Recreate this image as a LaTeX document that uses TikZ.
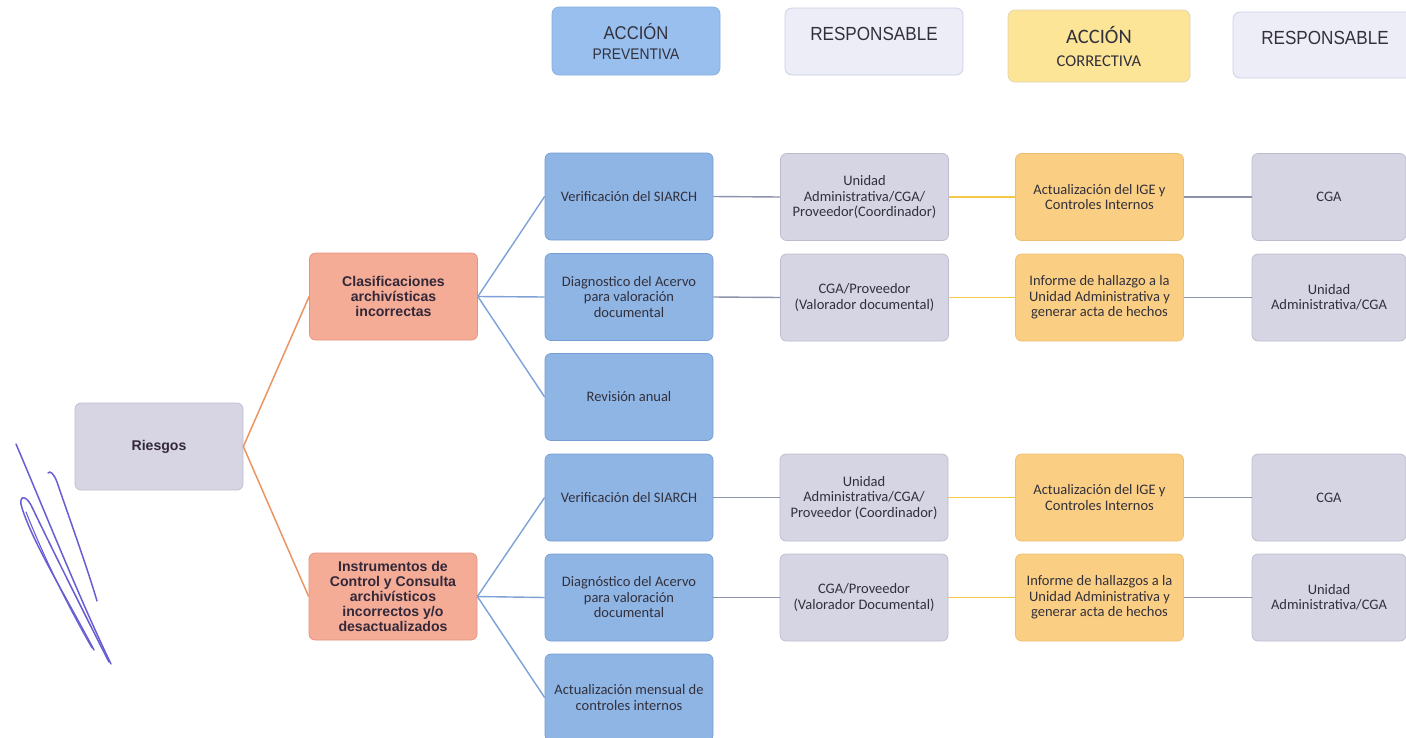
\documentclass[tikz,border=0pt]{standalone}
\usepackage{fontspec}
\setmainfont{Carlito}
\newfontfamily\arialf{Liberation Sans}
\newfontfamily\narrowf[FakeStretch=0.9]{Liberation Sans}
\definecolor{txtc}{RGB}{50,48,60}
\definecolor{boldtxt}{RGB}{50,40,58}
\definecolor{bluef}{RGB}{143,181,229}
\definecolor{blued}{RGB}{118,156,212}
\definecolor{hdrbluef}{RGB}{152,191,237}
\definecolor{hdrblued}{RGB}{135,175,225}
\definecolor{respf}{RGB}{214,213,227}
\definecolor{respd}{RGB}{188,188,206}
\definecolor{hdrrespf}{RGB}{237,237,248}
\definecolor{hdrrespd}{RGB}{202,207,230}
\definecolor{corrf}{RGB}{250,207,132}
\definecolor{corrd}{RGB}{236,190,112}
\definecolor{hdrcorrf}{RGB}{253,229,152}
\definecolor{hdrcorrd}{RGB}{222,214,175}
\definecolor{salf}{RGB}{245,172,150}
\definecolor{sald}{RGB}{230,146,126}
\definecolor{riskf}{RGB}{215,213,227}
\definecolor{riskd}{RGB}{190,190,208}
\definecolor{lorange}{RGB}{236,148,98}
\definecolor{lblue}{RGB}{126,161,214}
\definecolor{lgray}{RGB}{140,146,170}
\definecolor{lyellow}{RGB}{246,202,72}
\definecolor{sigc}{RGB}{104,94,212}
\tikzset{
  bx/.style={rounded corners=6pt, minimum width=168pt, minimum height=87pt,
    align=center, text=txtc, line width=0.7pt, inner sep=2pt,
    font=\fontsize{14.5}{15.5}\selectfont},
  bluebx/.style={bx, fill=bluef, draw=blued},
  respbx/.style={bx, fill=respf, draw=respd},
  corrbx/.style={bx, fill=corrf, draw=corrd},
  resp2bx/.style={respbx, minimum width=154pt},
  riskbx/.style={bx, fill=riskf, draw=riskd, text=boldtxt,
    font=\arialf\bfseries\fontsize{14.1}{15}\selectfont},
  salbx/.style={bx, fill=salf, draw=sald, text=boldtxt,
    font=\arialf\bfseries\fontsize{14.1}{15}\selectfont},
  hdr/.style={rounded corners=7pt, align=center, text=txtc, line width=0.7pt, inner sep=1pt},
  lnor/.style={draw=lorange, line width=1.5pt},
  lnbl/.style={draw=lblue, line width=1.4pt},
  lngr/.style={draw=lgray, line width=1.4pt},
  lnye/.style={draw=lyellow, line width=1.4pt},
  sig/.style={draw=sigc, line width=1.5pt, line cap=round, line join=round}
}
\begin{document}
\begin{tikzpicture}[x=1pt,y=-1pt]
\useasboundingbox (0,0) rectangle (1406,737);
\clip (0,0) rectangle (1406,737);
\fill[white] (0,0) rectangle (1406,737);

% headers
\node[hdr, fill=hdrbluef, draw=hdrblued, minimum width=168pt, minimum height=68pt,
  font=\narrowf\fontsize{15.4}{20}\selectfont] (h1) at (636,41)
  {{\fontsize{18.5}{18}\selectfont ACCIÓN}\\PREVENTIVA};
\node[hdr, fill=hdrrespf, draw=hdrrespd, minimum width=178pt, minimum height=67pt,
  text depth=15pt, font=\narrowf\fontsize{19}{20}\selectfont] (h2) at (874,41.5) {RESPONSABLE};
\node[hdr, fill=hdrcorrf, draw=hdrcorrd, minimum width=182pt, minimum height=72pt,
  font=\fontsize{16.5}{23}\selectfont] (h3) at (1099,46)
  {{\fontsize{20.5}{22}\selectfont ACCIÓN}\\CORRECTIVA};
\node[hdr, fill=hdrrespf, draw=hdrrespd, minimum width=184pt, minimum height=66pt,
  text depth=15pt, font=\narrowf\fontsize{19}{20}\selectfont] (h4) at (1325,45) {RESPONSABLE};

% left part
\node[riskbx] (risk) at (159,446.5) {Riesgos};
\node[salbx] (clas) at (393.5,296.5) {Clasificaciones\\archivísticas\\incorrectas};
\node[salbx] (inst) at (393,596.5) {Instrumentos de\\Control y Consulta\\archivísticos\\incorrectos y/o\\desactualizados};

% preventive actions
\node[bluebx] (b1) at (629,196.5) {Verificación del SIARCH};
\node[bluebx] (b2) at (629,297) {Diagnostico del Acervo\\para valoración\\documental};
\node[bluebx] (b3) at (629,397) {Revisión anual};
\node[bluebx] (b4) at (629,497.5) {Verificación del SIARCH};
\node[bluebx] (b5) at (629,597.5) {Diagnóstico del Acervo\\para valoración\\documental};
\node[bluebx] (b6) at (629,697.5) {Actualización mensual de\\controles internos};

% responsables
\node[respbx] (r1) at (864.5,197) {Unidad\\Administrativa/CGA/\\Proveedor(Coordinador)};
\node[respbx] (r2) at (864.5,297.5) {CGA/Proveedor\\(Valorador documental)};
\node[respbx] (r4) at (864,497.5) {Unidad\\Administrativa/CGA/\\Proveedor (Coordinador)};
\node[respbx] (r5) at (864,597.5) {CGA/Proveedor\\(Valorador Documental)};

% corrective actions
\node[corrbx] (c1) at (1099.5,197) {Actualización del IGE y\\Controles Internos};
\node[corrbx] (c2) at (1099.5,297.5) {Informe de hallazgo a la\\Unidad Administrativa y\\generar acta de hechos};
\node[corrbx] (c4) at (1099.5,497.5) {Actualización del IGE y\\Controles Internos};
\node[corrbx] (c5) at (1099.5,597.5) {Informe de hallazgos a la\\Unidad Administrativa y\\generar acta de hechos};

% responsables 2
\node[resp2bx] (s1) at (1329,197) {CGA};
\node[resp2bx] (s2) at (1329,297.5) {Unidad\\Administrativa/CGA};
\node[resp2bx] (s4) at (1329,497.5) {CGA};
\node[resp2bx] (s5) at (1329,597.5) {Unidad\\Administrativa/CGA};

% connectors
\draw[lnor] (risk.east) -- (clas.west);
\draw[lnor] (risk.east) -- (inst.west);
\foreach \t in {b1,b2,b3} \draw[lnbl] (clas.east) -- (\t.west);
\foreach \t in {b4,b5,b6} \draw[lnbl] (inst.east) -- (\t.west);
\draw[lngr] (b1.east) -- (r1.west);
\draw[lngr] (b2.east) -- (r2.west);
\draw[lngr] (b4.east) -- (r4.west);
\draw[lngr] (b5.east) -- (r5.west);
\draw[lnye] (r1.east) -- (c1.west);
\draw[lnye] (r2.east) -- (c2.west);
\draw[lnye] (r4.east) -- (c4.west);
\draw[lnye] (r5.east) -- (c5.west);
\draw[lngr] (c1.east) -- (s1.west);
\draw[lngr] (c2.east) -- (s2.west);
\draw[lngr] (c4.east) -- (s4.west);
\draw[lngr] (c5.east) -- (s5.west);

% signature scribble
\draw[sig] (16,444) .. controls (40,500) and (80,600) .. (111,664);
\draw[sig] (48,473) .. controls (50,470) and (54,474) .. (57,482) .. controls (70,520) and (88,570) .. (97,601);
\draw[sig] (94,650) .. controls (62,590) and (32,540) .. (22,508)
  .. controls (18,496) and (25,494) .. (31,505)
  .. controls (55,555) and (90,625) .. (109,662);
\draw[sig, line width=1.1pt] (26,512) .. controls (45,560) and (70,610) .. (92,648);
\end{tikzpicture}
\end{document}
